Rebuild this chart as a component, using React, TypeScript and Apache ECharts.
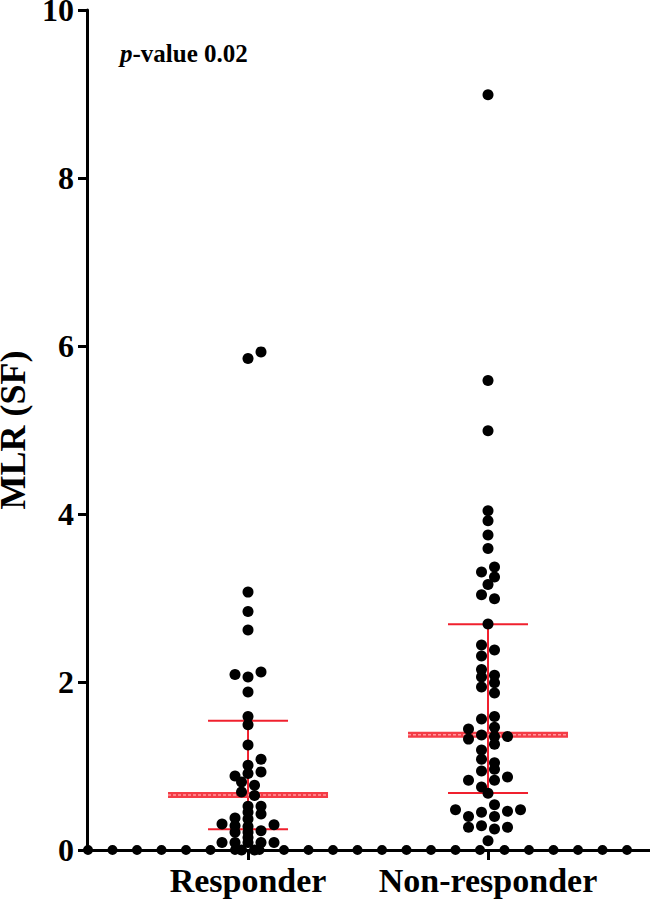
import React, { useEffect, useRef } from "react";
import * as echarts from "echarts";

// ---- data ----
const categories = ["Responder", "Non-responder"];

const responderValues = [
  5.93, 5.85, 3.07, 2.84, 2.62, 2.09, 2.12, 2.06, 1.88, 1.59, 1.49, 1.25, 1.01, 1.08,
  0.91, 0.93, 0.88, 0.81, 0.77, 0.69, 0.65, 0.52, 0.52, 0.45, 0.43, 0.38, 0.37, 0.31,
  0.3, 0.29, 0.28, 0.21, 0.21, 0.23, 0.15, 0.09, 0.09, 0.09, 0.09, 0.09, 0.0, 0.0,
];
// horizontal scatter column of each point (half-steps from the group centre)
const responderJitter = [
  2, 0, 0, 0, 0, -2, 2, 0, 0, 0, 0, 0, 0, 2,
  0, 2, -2, -1, 1, -1, 1, 0, 2, 0, 2, -2, 0, -4,
  4, -2, 0, -2, 0, 2, 0, -4, -2, 0, 2, 4, -1, 1,
];

const nonResponderValues = [
  8.99, 5.59, 4.99, 4.04, 3.92, 3.75, 3.59, 3.31, 3.37, 3.25, 3.16, 3.04, 2.99, 2.69,
  2.44, 2.38, 2.31, 2.15, 2.06, 2.08, 1.99, 1.94, 1.87, 1.56, 1.59, 1.46, 1.44, 1.32,
  1.37, 1.35, 1.35, 1.26, 1.19, 1.08, 1.04, 0.96, 0.94, 0.83, 0.83, 0.87, 0.75, 0.675,
  0.54, 0.48, 0.45, 0.46, 0.48, 0.4, 0.4, 0.27, 0.29, 0.25, 0.27, 0.11,
];
const nonResponderJitter = [
  0, 0, 0, 0, 0, 0, 0, -1, 1, 1, 0, -1, 1, 0,
  -1, 1, -1, -1, -1, 1, 1, -1, 1, -1, 1, 1, -3, -3,
  -1, 1, 3, 1, -1, -1, 1, 1, -1, -3, 1, 3, -1, 0,
  1, -5, -1, 3, 5, -3, 1, -3, -1, 1, 3, 0,
];

const medians = [0.655, 1.373];
const lowerBars = [0.246, 0.678];
const upperBars = [1.54, 2.687];

const yTickValues = [0, 2, 4, 6, 8, 10];
const pValueText = "-value 0.02";

// ---- layout constants ----
const FONT = "'Liberation Serif', 'Times New Roman', serif";
const STEP = 6.5 / 240; // half-step in axis units

export default function App() {
  const ref = useRef<HTMLDivElement>(null);

  useEffect(() => {
    if (!ref.current) return;
    const chart = echarts.init(ref.current, null, { renderer: "svg" });

    const makePoints = (vals: number[], jit: number[], cat: number) =>
      vals.map((v, i) => [cat + jit[i] * STEP, v]);

    const barData = categories.map((c, i) => [i + 1, medians[i], lowerBars[i], upperBars[i]]);

    const option: any = {
      animation: false,
      backgroundColor: "#fff",
      grid: {
        left: 87,
        right: 0,
        top: 10,
        bottom: 51,
        containLabel: false,
        outerBoundsMode: "none",
      },
      xAxis: [
        {
          type: "value",
          min: 0.329,
          max: 2.675,
          position: "bottom",
          splitLine: { show: false },
          axisLine: { show: true, onZero: false, lineStyle: { color: "#000", width: 3 } },
          axisTick: {
            show: true,
            customValues: [1, 2],
            length: 10,
            lineStyle: { color: "#000", width: 3 },
          },
          axisLabel: {
            customValues: [1, 2],
            formatter: (v: number) => categories[Math.round(v) - 1] ?? "",
            color: "#000",
            fontFamily: FONT,
            fontWeight: "bold",
            fontSize: 34,
            margin: 13,
          },
        },
        {
          type: "value",
          min: 0,
          max: 1,
          position: "bottom",
          offset: 0,
          splitLine: { show: false },
          axisTick: { show: false },
          axisLabel: { show: false },
          axisLine: {
            show: true,
            onZero: false,
            lineStyle: { color: "#000", width: 10, type: [0, 24.5], dashOffset: -1, cap: "round" },
          },
        },
      ],
      yAxis: {
        type: "value",
        min: 0,
        max: 10,
        interval: 2,
        name: "MLR (SF)",
        nameLocation: "middle",
        nameGap: 56,
        nameTextStyle: {
          color: "#000",
          fontFamily: FONT,
          fontWeight: "bold",
          fontSize: 36,
          lineHeight: 30,
        },
        splitLine: { show: false },
        axisLine: { show: true, onZero: false, lineStyle: { color: "#000", width: 3 } },
        axisTick: { show: true, length: 9, lineStyle: { color: "#000", width: 3 } },
        axisLabel: {
          color: "#000",
          fontFamily: FONT,
          fontWeight: "bold",
          fontSize: 32,
          lineHeight: 20,
          margin: 13,
          formatter: (v: number) => (yTickValues.includes(v) ? String(v) : ""),
        },
      },
      graphic: [
        {
          type: "text",
          left: 120,
          top: 41,
          style: {
            text: "{i|p}{b|" + pValueText + "}",
            fill: "#000",
            rich: {
              i: { fontFamily: FONT, fontStyle: "italic", fontWeight: "bold", fontSize: 25, fill: "#000" },
              b: { fontFamily: FONT, fontWeight: "bold", fontSize: 25, fill: "#000" },
            },
          },
        },
      ],
      series: [
        {
          type: "custom",
          xAxisIndex: 0,
          z: 1,
          data: barData,
          encode: { x: 0, y: [1, 2, 3] },
          clip: false,
          renderItem: (params: any, api: any) => {
            const x = api.value(0);
            const c = api.coord([x, api.value(1)]);
            const lo = api.coord([x, api.value(2)]);
            const hi = api.coord([x, api.value(3)]);
            const thin = { stroke: "#f0202e", lineWidth: 2 };
            return {
              type: "group",
              children: [
                { type: "line", shape: { x1: c[0], y1: lo[1], x2: c[0], y2: hi[1] }, style: thin },
                { type: "line", shape: { x1: c[0] - 40, y1: lo[1], x2: c[0] + 40, y2: lo[1] }, style: thin },
                { type: "line", shape: { x1: c[0] - 40, y1: hi[1], x2: c[0] + 40, y2: hi[1] }, style: thin },
                { type: "rect", shape: { x: c[0] - 80, y: c[1] - 3, width: 160, height: 6 }, style: { fill: "#f43c46" } },
                {
                  type: "line",
                  shape: { x1: c[0] - 80, y1: c[1], x2: c[0] + 80, y2: c[1] },
                  style: { stroke: "#ff9aa0", lineWidth: 1.5, lineDash: [3, 2] },
                },
              ],
            };
          },
        },
        {
          type: "scatter",
          name: categories[0],
          xAxisIndex: 0,
          z: 3,
          symbol: "circle",
          symbolSize: 11,
          itemStyle: { color: "#000", opacity: 1 },
          data: makePoints(responderValues, responderJitter, 1),
        },
        {
          type: "scatter",
          name: categories[1],
          xAxisIndex: 0,
          z: 3,
          symbol: "circle",
          symbolSize: 11,
          itemStyle: { color: "#000", opacity: 1 },
          data: makePoints(nonResponderValues, nonResponderJitter, 2),
        },
      ],
    };

    chart.setOption(option);
    return () => chart.dispose();
  }, []);

  return (
    <div
      ref={ref}
      style={{ position: "absolute", left: 0, top: 0, width: 650, height: 901, background: "#fff" }}
    />
  );
}
